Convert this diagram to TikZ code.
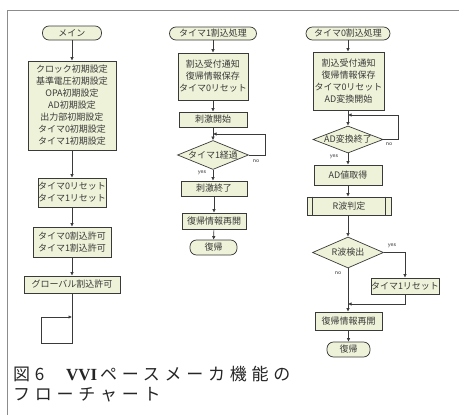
\documentclass[tikz,border=0pt]{standalone}
\usepackage{fontspec}
\newfontfamily\jp{Noto Sans CJK JP}
\newfontfamily\capfont[LetterSpace=28]{Noto Sans CJK JP}
\newfontfamily\capserif{Liberation Serif}
\usetikzlibrary{shapes.geometric,arrows.meta}
\definecolor{boxfill}{HTML}{EEF2D8}
\definecolor{inkc}{HTML}{3A3A3A}
\begin{document}
\begin{tikzpicture}[x=1pt,y=-1pt,
  every node/.style={font=\jp\fontsize{9}{12}\selectfont, text=inkc},
  proc/.style={draw=inkc, fill=boxfill, line width=0.7pt, inner sep=0pt, align=center},
  term/.style={proc, rounded corners=6.5pt},
  dia/.style={diamond, draw=inkc, fill=boxfill, line width=0.7pt, inner sep=0pt},
  flow/.style={draw=inkc, line width=0.6pt, -{Latex[length=3.5pt,width=3.5pt]}},
  plain/.style={draw=inkc, line width=0.6pt},
  yn/.style={font=\sffamily\fontsize{6}{6}\selectfont, inner sep=0pt}
]
\useasboundingbox (0,0) rectangle (459,415);
\fill[white] (0,0) rectangle (459,415);
\draw[black!45, line width=0.9pt] (459,10) -- (7,10) -- (7,415);

% ---------- main ----------
\node[term, minimum width=59pt, minimum height=14pt] (mt) at (72,33) {メイン};
\node[proc, minimum width=88pt, minimum height=89pt] (mi) at (72,105.5)
  {クロック初期設定\\基準電圧初期設定\\OPA初期設定\\AD初期設定\\出力部初期設定\\タイマ0初期設定\\タイマ1初期設定};
\node[proc, minimum width=68pt, minimum height=29pt] (mr) at (72,192.5) {タイマ0リセット\\タイマ1リセット};
\node[proc, minimum width=78pt, minimum height=30pt] (me) at (72,242) {タイマ0割込許可\\タイマ1割込許可};
\node[proc, minimum width=96pt, minimum height=17pt] (mg) at (72,284.5) {グローバル割込許可};
\coordinate (lbr) at (72,343);
\coordinate (lbl) at (41,343);
\coordinate (ltl) at (41,317);
\coordinate (ltr) at (72,317);
\draw[flow] (mt) -- (mi);
\draw[flow] (mi) -- (mr);
\draw[flow] (mr) -- (me);
\draw[flow] (me) -- (mg);
\draw[flow] (mg.south) -- (lbr) -- (lbl) -- (ltl) -- (ltr);

% ---------- timer 1 interrupt ----------
\node[term, minimum width=87pt, minimum height=13pt] (t1) at (213,33.5) {タイマ1割込処理};
\node[proc, minimum width=70pt, minimum height=47pt] (a1) at (213,76.5) {割込受付通知\\復帰情報保存\\タイマ0リセット};
\node[proc, minimum width=68pt, minimum height=15pt] (b1) at (213,119.5) {刺激開始};
\node[dia, minimum width=71pt, minimum height=29pt, label={center:タイマ1経過}] (d1) at (213,155) {};
\node[proc, minimum width=66pt, minimum height=15pt] (e1) at (214,188.5) {刺激終了};
\node[proc, minimum width=64pt, minimum height=16pt] (f1) at (214,221) {復帰情報再開};
\node[term, minimum width=47pt, minimum height=15pt] (g1) at (213.5,247.5) {復帰};
\coordinate (c1a) at (265,155);
\coordinate (c1b) at (265,134);
\coordinate (c1c) at (213,134);
\draw[flow] (t1) -- (a1);
\draw[flow] (a1) -- (b1);
\draw[flow] (b1) -- (d1);
\draw[flow] (d1.east) -- (c1a) -- (c1b) -- (c1c);
\draw[flow] (d1.south) -- (e1.north -| d1.south);
\draw[flow] (e1) -- (f1);
\draw[flow] (f1) -- (g1);
\node[yn] (n1) at (256,161) {no};
\node[yn] (y1) at (202,173) {yes};

% ---------- timer 0 interrupt ----------
\node[term, minimum width=84pt, minimum height=13pt] (t0) at (348,33.5) {タイマ0割込処理};
\node[proc, minimum width=71pt, minimum height=58pt] (a0) at (348.5,81) {割込受付通知\\復帰情報保存\\タイマ0リセット\\AD変換開始};
\node[dia, minimum width=70pt, minimum height=27pt, label={center:AD変換終了}] (d0) at (348,139.5) {};
\node[proc, minimum width=68pt, minimum height=20pt] (h0) at (348,175) {AD値取得};
\node[proc, minimum width=84pt, minimum height=18pt] (r0) at (349,206) {R波判定};
\draw[inkc, line width=0.6pt] ([xshift=6pt]r0.north west) -- ([xshift=6pt]r0.south west)
  ([xshift=-6pt]r0.north east) -- ([xshift=-6pt]r0.south east);
\node[dia, minimum width=71pt, minimum height=31pt, label={center:R波検出}] (k0) at (348,252.5) {};
\node[proc, minimum width=65pt, minimum height=16pt] (x0) at (405,286) {タイマ1リセット};
\node[proc, minimum width=67pt, minimum height=18pt] (f0) at (348.5,321) {復帰情報再開};
\node[term, minimum width=43pt, minimum height=15pt] (g0) at (348.5,349.5) {復帰};
\coordinate (c0a) at (398,139.5);
\coordinate (c0b) at (398,115);
\coordinate (c0c) at (348,115);
\coordinate (m0) at (348,304);
\draw[flow] (t0) -- (t0.south |- a0.north);
\draw[flow] (a0.south -| d0.north) -- (d0);
\draw[flow] (d0.east) -- (c0a) -- (c0b) -- (c0c);
\draw[flow] (d0.south) -- (d0.south |- h0.north);
\draw[flow] (h0.south) -- (h0.south |- r0.north);
\draw[flow] (r0.south -| k0.north) -- (k0);
\draw[flow] (k0.east) -| (x0.north);
\draw[plain] (k0.south) -- (m0);
\draw[flow] (x0.south) |- (m0);
\draw[flow] (m0) -- (m0 |- f0.north);
\draw[flow] (f0.south -| g0.north) -- (g0);
\node[yn] (n0) at (389,144) {no};
\node[yn] (y0) at (334,157) {yes};
\node[yn] (yk) at (392,246) {yes};
\node[yn] (nk) at (338,273) {no};

% ---------- caption ----------
\node[anchor=west, inner sep=0pt, font=\capfont\fontsize{17}{21}\selectfont, text=black!85] (cap1) at (13,374)
  {図6　{\capserif\bfseries VVI}\,ペースメーカ機能の};
\node[anchor=west, inner sep=0pt, font=\capfont\fontsize{17}{21}\selectfont, text=black!85] (cap2) at (13,395)
  {フローチャート};
\end{tikzpicture}
\end{document}
